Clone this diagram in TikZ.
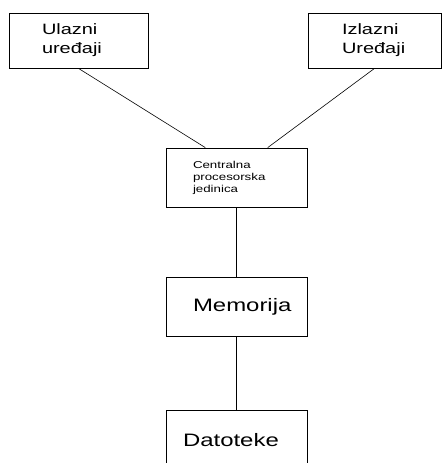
\documentclass[tikz,border=0pt]{standalone}
\usepackage{fontspec}
\setsansfont[FakeStretch=1.33]{Liberation Sans}
\usetikzlibrary{calc}

\tikzset{
  unit/.style={draw, line width=0.8pt, align=left, inner ysep=0pt, font=\sffamily},
  link/.style={line width=0.6pt}
}

\begin{document}
\begin{tikzpicture}[x=1pt,y=-1pt]
        \useasboundingbox (0,0) rectangle (443,463);

        % ulazni i izlazni uredjaji
        \node[unit, inner xsep=33pt, text width=73pt, minimum height=55pt,
              font=\sffamily\fontsize{15}{19}\selectfont] (ulaz) at (78.5,40.5) {Ulazni\\uređaji};
        \node[unit, inner xsep=34pt, text width=65pt, minimum height=55pt,
              font=\sffamily\fontsize{15}{19}\selectfont] (izlaz) at (374.5,40.5) {Izlazni\\Uređaji};

        % centralna jedinica
        \node[unit, inner xsep=27pt, text width=87pt, minimum height=59pt,
              font=\sffamily\fontsize{10}{12}\selectfont] (cpu) at (236.5,177.5) {Centralna\\procesorska\\jedinica};

        \node[unit, inner xsep=27pt, text width=87pt, minimum height=59pt,
              font=\sffamily\fontsize{18}{20}\selectfont] (mem) at (236.5,306.5) {Memorija};

        \node[unit, inner xsep=17pt, text width=107pt, minimum height=60pt,
              font=\sffamily\fontsize{18}{20}\selectfont] (dat) at (236.5,440) {Datoteke};

        \draw[link] (ulaz.south) -- ($(cpu.north west)!0.28!(cpu.north east)$);
        \draw[link] (izlaz.south) -- ($(cpu.north west)!0.72!(cpu.north east)$);
        \draw[link] (cpu.south) -- (mem.north);
        \draw[link] (mem.south) -- (dat.north);
    \end{tikzpicture}
\end{document}
